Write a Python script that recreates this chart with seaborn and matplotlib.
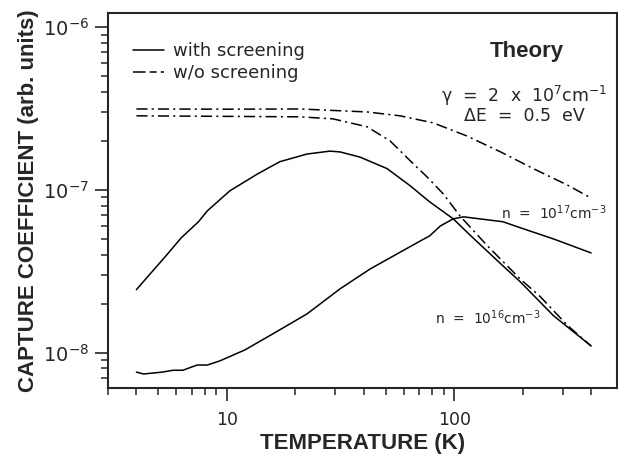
import matplotlib
matplotlib.use('Agg')
import matplotlib.pyplot as plt
import matplotlib.ticker as mticker
from matplotlib.lines import Line2D
import seaborn as sns

# with screening, n = 1e16
T_16_scr = [4.0, 5.4, 6.3, 7.5, 8.2, 10.3, 13.6, 17.1, 22.5, 28.4, 31.5, 38.5, 50.7,
            64, 78, 99, 117, 160, 195, 273, 400]
C_16_scr = [2.44e-8, 3.94e-8, 5.08e-8, 6.37e-8, 7.43e-8, 9.86e-8, 1.25e-7, 1.49e-7,
            1.66e-7, 1.73e-7, 1.71e-7, 1.59e-7, 1.35e-7, 1.06e-7, 8.44e-8, 6.64e-8,
            5.30e-8, 3.52e-8, 2.73e-8, 1.69e-8, 1.10e-8]

# with screening, n = 1e17
T_17_scr = [4.0, 4.3, 5.2, 5.8, 6.4, 7.4, 8.2, 9.3, 12.0, 16.0, 22.5, 31.5, 42.7, 56,
            71, 78, 87, 99, 110, 164, 190, 273, 400]
C_17_scr = [7.6e-9, 7.4e-9, 7.6e-9, 7.8e-9, 7.8e-9, 8.4e-9, 8.4e-9, 8.9e-9, 1.04e-8,
            1.31e-8, 1.73e-8, 2.47e-8, 3.27e-8, 4.04e-8, 4.86e-8, 5.22e-8, 6.01e-8,
            6.64e-8, 6.83e-8, 6.37e-8, 5.93e-8, 5.00e-8, 4.10e-8]

# w/o screening, n = 1e17
T_17_wo = [4.0, 10.3, 21, 41.4, 57.8, 80.8, 114, 160, 223, 315, 400]
C_17_wo = [3.14e-7, 3.13e-7, 3.14e-7, 3.01e-7, 2.85e-7, 2.58e-7, 2.14e-7, 1.71e-7,
           1.35e-7, 1.07e-7, 8.9e-8]

# w/o screening, n = 1e16
T_16_wo = [4.0, 21, 29.3, 41.4, 52.2, 64, 76, 89.5, 106, 140, 195, 239, 315, 400]
C_16_wo = [2.85e-7, 2.81e-7, 2.73e-7, 2.44e-7, 2.00e-7, 1.51e-7, 1.20e-7, 9.45e-8,
           6.92e-8, 4.53e-8, 2.84e-8, 2.21e-8, 1.47e-8, 1.10e-8]

sns.set_style('ticks')
plt.rcParams['font.family'] = ['DejaVu Sans']
plt.rcParams['mathtext.fontset'] = 'dejavusans'
plt.rcParams['lines.scale_dashes'] = False

bold_font = ['Liberation Sans', 'DejaVu Sans']
dashdot = (0, (8, 3, 1.5, 3))
lw = 1.1

fig = plt.figure(figsize=(6.18, 4.54), dpi=100)
ax = fig.add_axes([108/618, 66/454, 509/618, 375/454])

sns.lineplot(x=T_16_scr, y=C_16_scr, color='k', lw=lw, sort=False, ax=ax)
sns.lineplot(x=T_17_scr, y=C_17_scr, color='k', lw=lw, sort=False, ax=ax)
sns.lineplot(x=T_17_wo, y=C_17_wo, color='k', lw=lw, sort=False, ax=ax, linestyle=dashdot)
sns.lineplot(x=T_16_wo, y=C_16_wo, color='k', lw=lw, sort=False, ax=ax, linestyle=dashdot)

ax.set_xscale('log')
ax.set_yscale('log')
ax.set_xlim(3, 520)
ax.set_ylim(6.07e-9, 1.22e-6)

ax.xaxis.set_major_locator(mticker.FixedLocator([10, 100]))
ax.xaxis.set_major_formatter(mticker.FixedFormatter(['10', '100']))
ax.xaxis.set_minor_locator(mticker.FixedLocator([3, 4, 5, 6, 7, 8, 9, 20, 30, 40, 50, 60, 70,
                                                  80, 90, 200, 300, 400]))
ax.xaxis.set_minor_formatter(mticker.NullFormatter())
ax.yaxis.set_major_locator(mticker.LogLocator(base=10, numticks=10))
ax.yaxis.set_minor_locator(mticker.LogLocator(base=10, subs=range(2, 10), numticks=10))
ax.yaxis.set_minor_formatter(mticker.NullFormatter())

ax.tick_params(which='major', direction='out', length=9.5, width=1.2, labelsize=12.5, pad=5)
ax.tick_params(axis='x', which='major', pad=7)
ax.tick_params(axis='y', which='major', labelsize=14, pad=4)
ax.tick_params(which='minor', direction='out', length=5, width=1.1)
for s in ax.spines.values():
    s.set_linewidth(1.5)

ax.set_xlabel('TEMPERATURE (K)', fontsize=16, fontweight='bold', family=bold_font, labelpad=3)
ax.set_ylabel('CAPTURE COEFFICIENT (arb. units)', fontsize=16, fontweight='bold',
              family=bold_font, labelpad=3)

handles = [Line2D([], [], color='k', lw=lw),
           Line2D([], [], color='k', lw=lw, linestyle=(0, (9, 3, 5, 3)))]
ax.legend(handles, ['with screening', 'w/o screening'], loc='upper left',
          bbox_to_anchor=(0.049, 0.922), frameon=False, fontsize=13,
          handlelength=1.7, handletextpad=0.5, labelspacing=0.2,
          borderpad=0, borderaxespad=0)

ax.text(0.823, 0.896, 'Theory', transform=ax.transAxes, ha='center', va='center',
        fontsize=16, fontweight='bold', family=bold_font)
ax.text(0.818, 0.778, 'γ  =  2  x  10$^{7}$cm$^{-1}$', transform=ax.transAxes,
        ha='center', va='center', fontsize=12.5)
ax.text(0.819, 0.726, 'ΔE  =  0.5  eV', transform=ax.transAxes,
        ha='center', va='center', fontsize=12.5)
ax.text(0.876, 0.467, 'n  =  10$^{17}$cm$^{-3}$', transform=ax.transAxes,
        ha='center', va='center', fontsize=10)
ax.text(0.746, 0.187, 'n  =  10$^{16}$cm$^{-3}$', transform=ax.transAxes,
        ha='center', va='center', fontsize=10)

fig.savefig('out.png', dpi=100)
